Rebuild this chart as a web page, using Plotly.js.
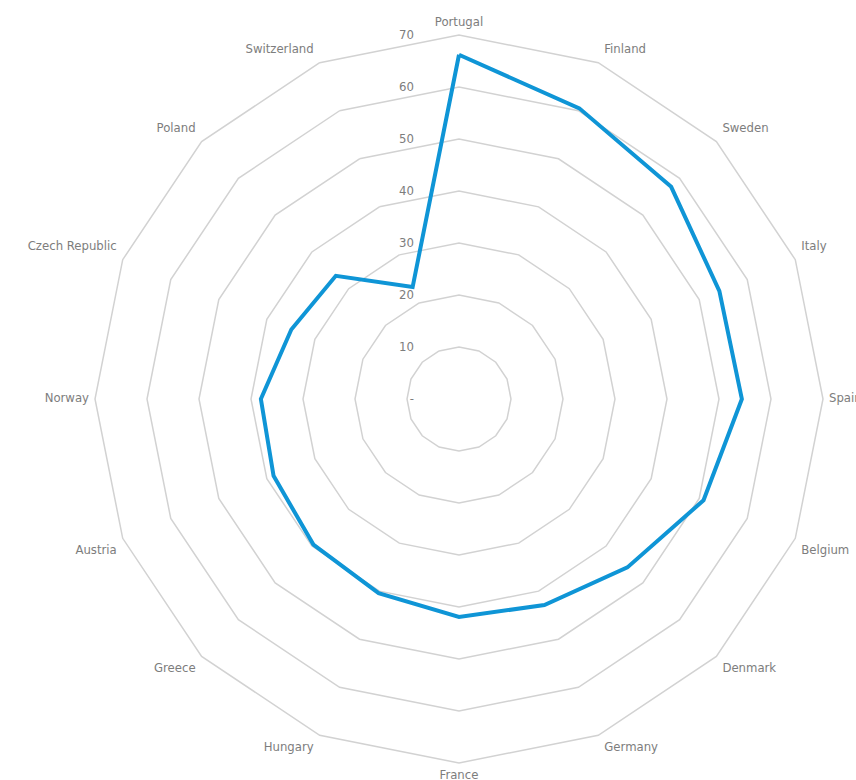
<!DOCTYPE html>
<html>
<head>
<meta charset="utf-8">
<script src="https://cdn.plot.ly/plotly-3.0.1.min.js"></script>
<style>
html,body{margin:0;padding:0;background:#fff;}
#chart{width:856px;height:780px;}
#chart text{font-stretch:condensed;}
</style>
</head>
<body>
<div id="chart"></div>
<script>
const categories = ["Portugal","Finland","Sweden","Italy","Spain","Belgium","Denmark","Germany","France","Hungary","Greece","Austria","Norway","Czech Republic","Poland","Switzerland"];
const values = [66.2,60.5,57.7,54.2,54.4,50.9,45.8,42.9,41.9,40.4,39.6,38.6,38.1,34.9,33.5,23.3];
const radialTicks = [0,10,20,30,40,50,60,70];
const radialTickText = ["-","10","20","30","40","50","60","70"];

const RMAX = radialTicks[radialTicks.length - 1];
const theta = categories.concat([categories[0]]);
const r = values.concat([values[0]]);

const FONT = "'DejaVu Sans Condensed', 'DejaVu Sans', sans-serif";
const GRID = "#d2d2d2";
const TXT = "#7d7d7d";

// label placement derived from each category's direction
const labelPos = categories.map((c, i) => {
  const a = i * 2 * Math.PI / categories.length;
  const s = Math.sin(a), co = Math.cos(a), e = 1e-6;
  const v = co > e ? "top" : (co < -e ? "bottom" : "middle");
  const h = s > e ? "right" : (s < -e ? "left" : "center");
  return v + " " + h;
});

const data = [{
  type: "scatterpolar",
  r: r,
  theta: theta,
  mode: "lines",
  line: {color: "#0f95d6", width: 4},
  hoverinfo: "skip"
}, {
  type: "scatterpolar",
  r: categories.map(() => RMAX),
  theta: categories,
  mode: "markers+text",
  text: categories,
  textposition: labelPos,
  textfont: {family: FONT, color: TXT, size: 13},
  marker: {size: 8, color: "rgba(0,0,0,0)"},
  cliponaxis: false,
  hoverinfo: "skip"
}];

const layout = {
  width: 856, height: 780,
  margin: {l:0, r:0, t:0, b:0},
  paper_bgcolor: "#fff",
  showlegend: false,
  font: {family: FONT, color: TXT, size: 13},
  polar: {
    domain: {x: [95/856, 823/856], y: [17/780, 745/780]},
    bgcolor: "#fff",
    gridshape: "linear",
    angularaxis: {
      type: "category",
      categoryarray: categories,
      direction: "clockwise",
      rotation: 90,
      showgrid: false,
      showline: true,
      linecolor: GRID,
      linewidth: 1.5,
      ticks: "",
      showticklabels: false
    },
    radialaxis: {
      range: [0, RMAX],
      angle: 90,
      side: "counterclockwise",
      tickmode: "array",
      tickvals: radialTicks,
      ticktext: radialTickText,
      showline: false,
      showgrid: true,
      gridcolor: GRID,
      gridwidth: 1.5,
      ticks: "outside",
      ticklen: 40,
      tickcolor: "rgba(0,0,0,0)",
      tickangle: 90,
      tickfont: {family: FONT, color: TXT, size: 13}
    }
  }
};

Plotly.newPlot("chart", data, layout, {displayModeBar: false, staticPlot: true});
</script>
</body>
</html>
